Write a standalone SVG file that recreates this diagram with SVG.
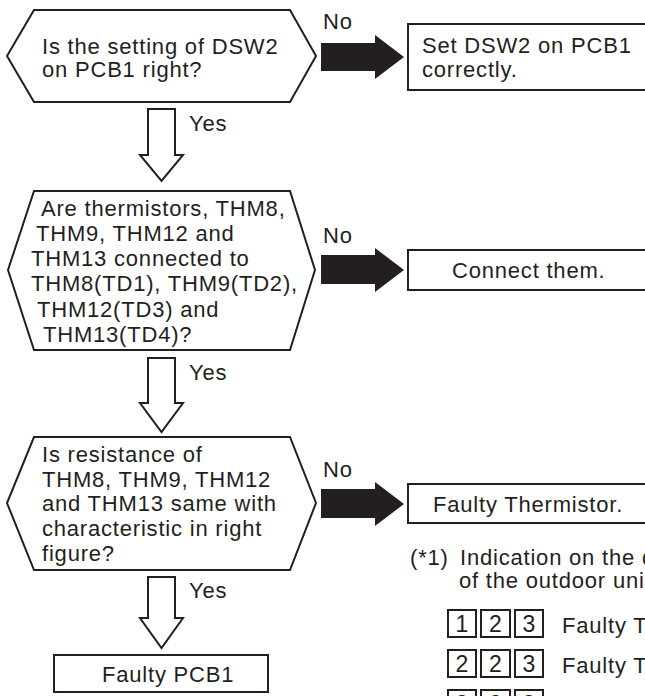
<svg xmlns="http://www.w3.org/2000/svg" width="645" height="696" viewBox="0 0 645 696">
<style>
text{font-family:"Liberation Sans",Arial,Helvetica,sans-serif;font-size:22px;letter-spacing:0.8px;fill:#231f20}
.shape{fill:#fff;stroke:#231f20;stroke-width:2;stroke-linejoin:miter}
.yes{fill:#fff;stroke:#231f20;stroke-width:2;stroke-linejoin:miter}
.no{fill:#231f20;stroke:none}
.digit{font-size:23px;letter-spacing:0;text-anchor:middle}
</style>
<rect width="645" height="696" fill="#fff"/>
<g id="connectors">
<polygon class="no" points="321,43 375,43 375,35 404,57 375,79 375,71 321,71"/>
<polygon class="no" points="321,255 375,255 375,248 404,270 375,292 375,284 321,284"/>
<polygon class="no" points="321,489 375,489 375,482 404,504 375,526 375,518 321,518"/>
<polygon class="yes" points="148,109 175,109 175,155 183,155 161.5,181 140,155 148,155"/>
<polygon class="yes" points="148,358 175,358 175,403 183,403 161.5,432 140,403 148,403"/>
<polygon class="yes" points="148,577 175,577 175,618 183,618 161.5,648 140,618 148,618"/>
<text x="323" y="29">No</text>
<text x="323" y="243">No</text>
<text x="323" y="477">No</text>
<text x="189" y="131">Yes</text>
<text x="189" y="380">Yes</text>
<text x="189" y="598">Yes</text>
</g>
<g id="q1">
<polygon class="shape" points="34,10 290,10 316,56 290,102 34,102 7,56"/>
<text x="42" y="54">Is the setting of DSW2</text>
<text x="42" y="77">on PCB1 right?</text>
</g>
<g id="a1">
<rect class="shape" x="408" y="24" width="250" height="66"/>
<text x="422" y="53">Set DSW2 on PCB1</text>
<text x="422" y="77">correctly.</text>
</g>
<g id="q2">
<polygon class="shape" points="34,191 290,191 315,270 290,350 34,350 8,270"/>
<text x="41" y="216">Are thermistors, THM8,</text>
<text x="36" y="241">THM9, THM12 and</text>
<text x="31" y="266">THM13 connected to</text>
<text x="31" y="291">THM8(TD1), THM9(TD2),</text>
<text x="37" y="317">THM12(TD3) and</text>
<text x="43" y="342">THM13(TD4)?</text>
</g>
<g id="a2">
<rect class="shape" x="408" y="250" width="250" height="40"/>
<text x="452" y="278">Connect them.</text>
</g>
<g id="q3">
<polygon class="shape" points="34,437 290,437 316,503 290,570 34,570 7,503"/>
<text x="42" y="462">Is resistance of</text>
<text x="42" y="487">THM8, THM9, THM12</text>
<text x="42" y="511">and THM13 same with</text>
<text x="42" y="536">characteristic in right</text>
<text x="42" y="561">figure?</text>
</g>
<g id="a3">
<rect class="shape" x="408" y="484" width="250" height="39"/>
<text x="433" y="512">Faulty Thermistor.</text>
</g>
<g id="pcb">
<rect class="shape" x="54" y="655" width="214" height="37"/>
<text x="102" y="682">Faulty PCB1</text>
</g>
<g id="note">
<text x="410" y="565">(*1)</text>
<text x="460" y="565">Indication on the d</text>
<text x="459" y="588">of the outdoor uni</text>
<rect class="shape" x="448" y="610" width="28" height="27"/>
<rect class="shape" x="481" y="610" width="29" height="27"/>
<rect class="shape" x="515" y="610" width="28" height="27"/>
<text class="digit" x="462" y="632">1</text>
<text class="digit" x="495.5" y="632">2</text>
<text class="digit" x="529" y="632">3</text>
<text x="562" y="633">Faulty T</text>
<rect class="shape" x="448" y="650" width="28" height="27"/>
<rect class="shape" x="481" y="650" width="29" height="27"/>
<rect class="shape" x="515" y="650" width="28" height="27"/>
<text class="digit" x="462" y="672">2</text>
<text class="digit" x="495.5" y="672">2</text>
<text class="digit" x="529" y="672">3</text>
<text x="562" y="673">Faulty T</text>
<rect class="shape" x="448" y="690" width="28" height="27"/>
<rect class="shape" x="481" y="690" width="29" height="27"/>
<rect class="shape" x="515" y="690" width="28" height="27"/>
<text class="digit" x="462" y="712">3</text>
<text class="digit" x="495.5" y="712">2</text>
<text class="digit" x="529" y="712">3</text>
<text x="562" y="713">Faulty T</text>
</g>
</svg>
